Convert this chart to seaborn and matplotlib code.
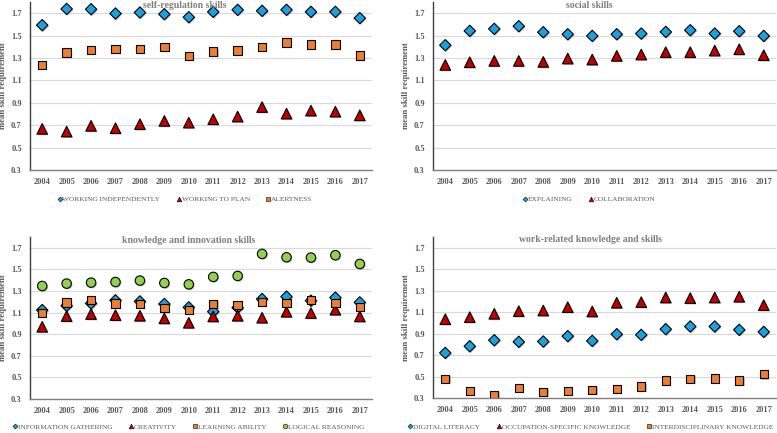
import numpy as np
import pandas as pd
import seaborn as sns
import matplotlib.pyplot as plt
from matplotlib.lines import Line2D
import matplotlib.patheffects as pe

# data
years = [str(y) for y in range(2004, 2018)]

# self-regulation skills
working_independently = [1.593, 1.738, 1.735, 1.697, 1.706, 1.691, 1.664, 1.712, 1.730, 1.721, 1.730, 1.712, 1.712, 1.656]
working_to_plan = [0.667, 0.643, 0.694, 0.673, 0.709, 0.738, 0.723, 0.753, 0.777, 0.862, 0.803, 0.830, 0.821, 0.788]
alertness = [1.238, 1.348, 1.374, 1.383, 1.383, 1.398, 1.318, 1.357, 1.366, 1.398, 1.437, 1.419, 1.419, 1.321]

# social skills
explaining = [1.414, 1.542, 1.560, 1.584, 1.530, 1.512, 1.497, 1.512, 1.518, 1.533, 1.548, 1.518, 1.539, 1.497]
collaboration = [1.238, 1.262, 1.274, 1.274, 1.265, 1.295, 1.286, 1.319, 1.331, 1.352, 1.352, 1.366, 1.378, 1.325]

# knowledge and innovation skills
information_gathering = [1.124, 1.164, 1.186, 1.214, 1.204, 1.180, 1.149, 1.109, 1.146, 1.226, 1.248, 1.211, 1.239, 1.195]
creativity = [0.969, 1.068, 1.087, 1.077, 1.071, 1.047, 1.006, 1.065, 1.071, 1.053, 1.108, 1.096, 1.127, 1.065]
learning_ability = [1.099, 1.195, 1.217, 1.186, 1.180, 1.146, 1.127, 1.177, 1.173, 1.201, 1.189, 1.220, 1.189, 1.155]
logical_reasoning = [1.347, 1.369, 1.378, 1.384, 1.397, 1.375, 1.362, 1.431, 1.440, 1.644, 1.613, 1.610, 1.632, 1.551]

# work-related knowledge and skills
digital_literacy = [0.720, 0.782, 0.838, 0.823, 0.826, 0.876, 0.832, 0.894, 0.888, 0.941, 0.966, 0.966, 0.935, 0.916]
occupation_specific = [1.034, 1.053, 1.084, 1.109, 1.115, 1.146, 1.106, 1.187, 1.193, 1.236, 1.230, 1.236, 1.243, 1.165]
interdisciplinary = [0.480, 0.368, 0.328, 0.394, 0.356, 0.366, 0.375, 0.384, 0.406, 0.462, 0.475, 0.481, 0.462, 0.521]

# marker styles (marker, colour, size)
BLUE, RED, ORANGE, GREEN = "#1BA1DF", "#C00000", "#ED7D31", "#92D050"
DIAMOND = ("D", BLUE, 5.8)
TRIANGLE = ("^", RED, 7.6)
SQUARE = ("s", ORANGE, 6.0)
CIRCLE = ("o", GREEN, 6.8)

panels = [
    ("self-regulation skills", [0.0386, 0.6074, 0.4402, 0.388], 0.238, 0.540,
     [("WORKING INDEPENDENTLY", working_independently, DIAMOND),
      ("WORKING TO PLAN", working_to_plan, TRIANGLE),
      ("ALERTNESS", alertness, SQUARE)]),
    ("social skills", [0.5573, 0.6074, 0.4414, 0.388], 0.758, 0.540,
     [("EXPLAINING", explaining, DIAMOND),
      ("COLLABORATION", collaboration, TRIANGLE)]),
    ("knowledge and innovation skills", [0.0386, 0.0785, 0.4402, 0.374], 0.243, 0.0139,
     [("INFORMATION GATHERING", information_gathering, DIAMOND),
      ("CREATIVITY", creativity, TRIANGLE),
      ("LEARNING ABILITY", learning_ability, SQUARE),
      ("LOGICAL REASONING", logical_reasoning, CIRCLE)]),
    ("work-related knowledge and skills", [0.5573, 0.0808, 0.4414, 0.372], 0.760, 0.0139,
     [("DIGITAL LITERACY", digital_literacy, DIAMOND),
      ("OCCUPATION-SPECIFIC KNOWLEDGE", occupation_specific, TRIANGLE),
      ("INTERDISCIPLINARY KNOWLEDGE", interdisciplinary, SQUARE)]),
]

sns.set_style("white")
plt.rcParams["font.family"] = ["Liberation Serif", "DejaVu Serif"]

TEXT = "#595959"
fig = plt.figure(figsize=(7.77, 4.33), dpi=100)
shadow = [pe.SimplePatchShadow(offset=(0.8, -0.8), shadow_rgbFace="#888888", alpha=0.5), pe.Normal()]

for title, rect, tx, ly, series in panels:
    ax = fig.add_axes(rect)
    x = np.arange(len(years))
    handles = []
    for name, vals, (mk, col, ms) in series:
        df = pd.DataFrame({"year": x, "value": vals})
        sns.scatterplot(data=df, x="year", y="value", marker=mk, color=col,
                        s=ms ** 2, edgecolor="black", linewidth=0.8, ax=ax, zorder=3)
        ax.collections[-1].set_path_effects(shadow)
        handles.append(Line2D([], [], linestyle="none", marker=mk, markerfacecolor=col,
                              markeredgecolor="black", markeredgewidth=0.4,
                              markersize=3.4 if mk != "D" else 2.5, label=name))
    ax.set_xlim(-0.5, len(years) - 0.5)
    ax.set_ylim(0.3, 1.8)
    ax.set_yticks(np.arange(0.3, 1.71, 0.2))
    ax.set_yticklabels([f"{v:.1f}" for v in np.arange(0.3, 1.71, 0.2)])
    ax.set_xticks(x)
    ax.set_xticklabels(years)
    ax.grid(axis="y", color="#D9D9D9", linewidth=0.8)
    ax.set_axisbelow(True)
    for s in ["top", "right"]:
        ax.spines[s].set_visible(False)
    ax.spines["left"].set_color("#404040")
    ax.spines["left"].set_linewidth(1.0)
    ax.spines["bottom"].set_color("#808080")
    ax.spines["bottom"].set_linewidth(1.0)
    ax.tick_params(axis="both", length=0, labelsize=6, labelcolor=TEXT, pad=6)
    for lab in ax.get_xticklabels() + ax.get_yticklabels():
        lab.set_fontweight("bold")
    ax.set_xlabel("")
    ax.set_ylabel("mean skill requirement", fontsize=6.3, fontweight="bold", color=TEXT, labelpad=3)
    fig.text(tx, rect[1] + rect[3] - 0.007, title, ha="center", va="center",
             fontsize=7, fontweight="bold", color="#7F7F7F")
    fig.legend(handles=handles, loc="center", bbox_to_anchor=(tx, ly), ncol=len(handles),
               frameon=False, fontsize=5.3, labelcolor=TEXT, handlelength=0.6,
               handletextpad=0.1, columnspacing=2.2, borderpad=0)

fig.savefig("out.png", dpi=100)
